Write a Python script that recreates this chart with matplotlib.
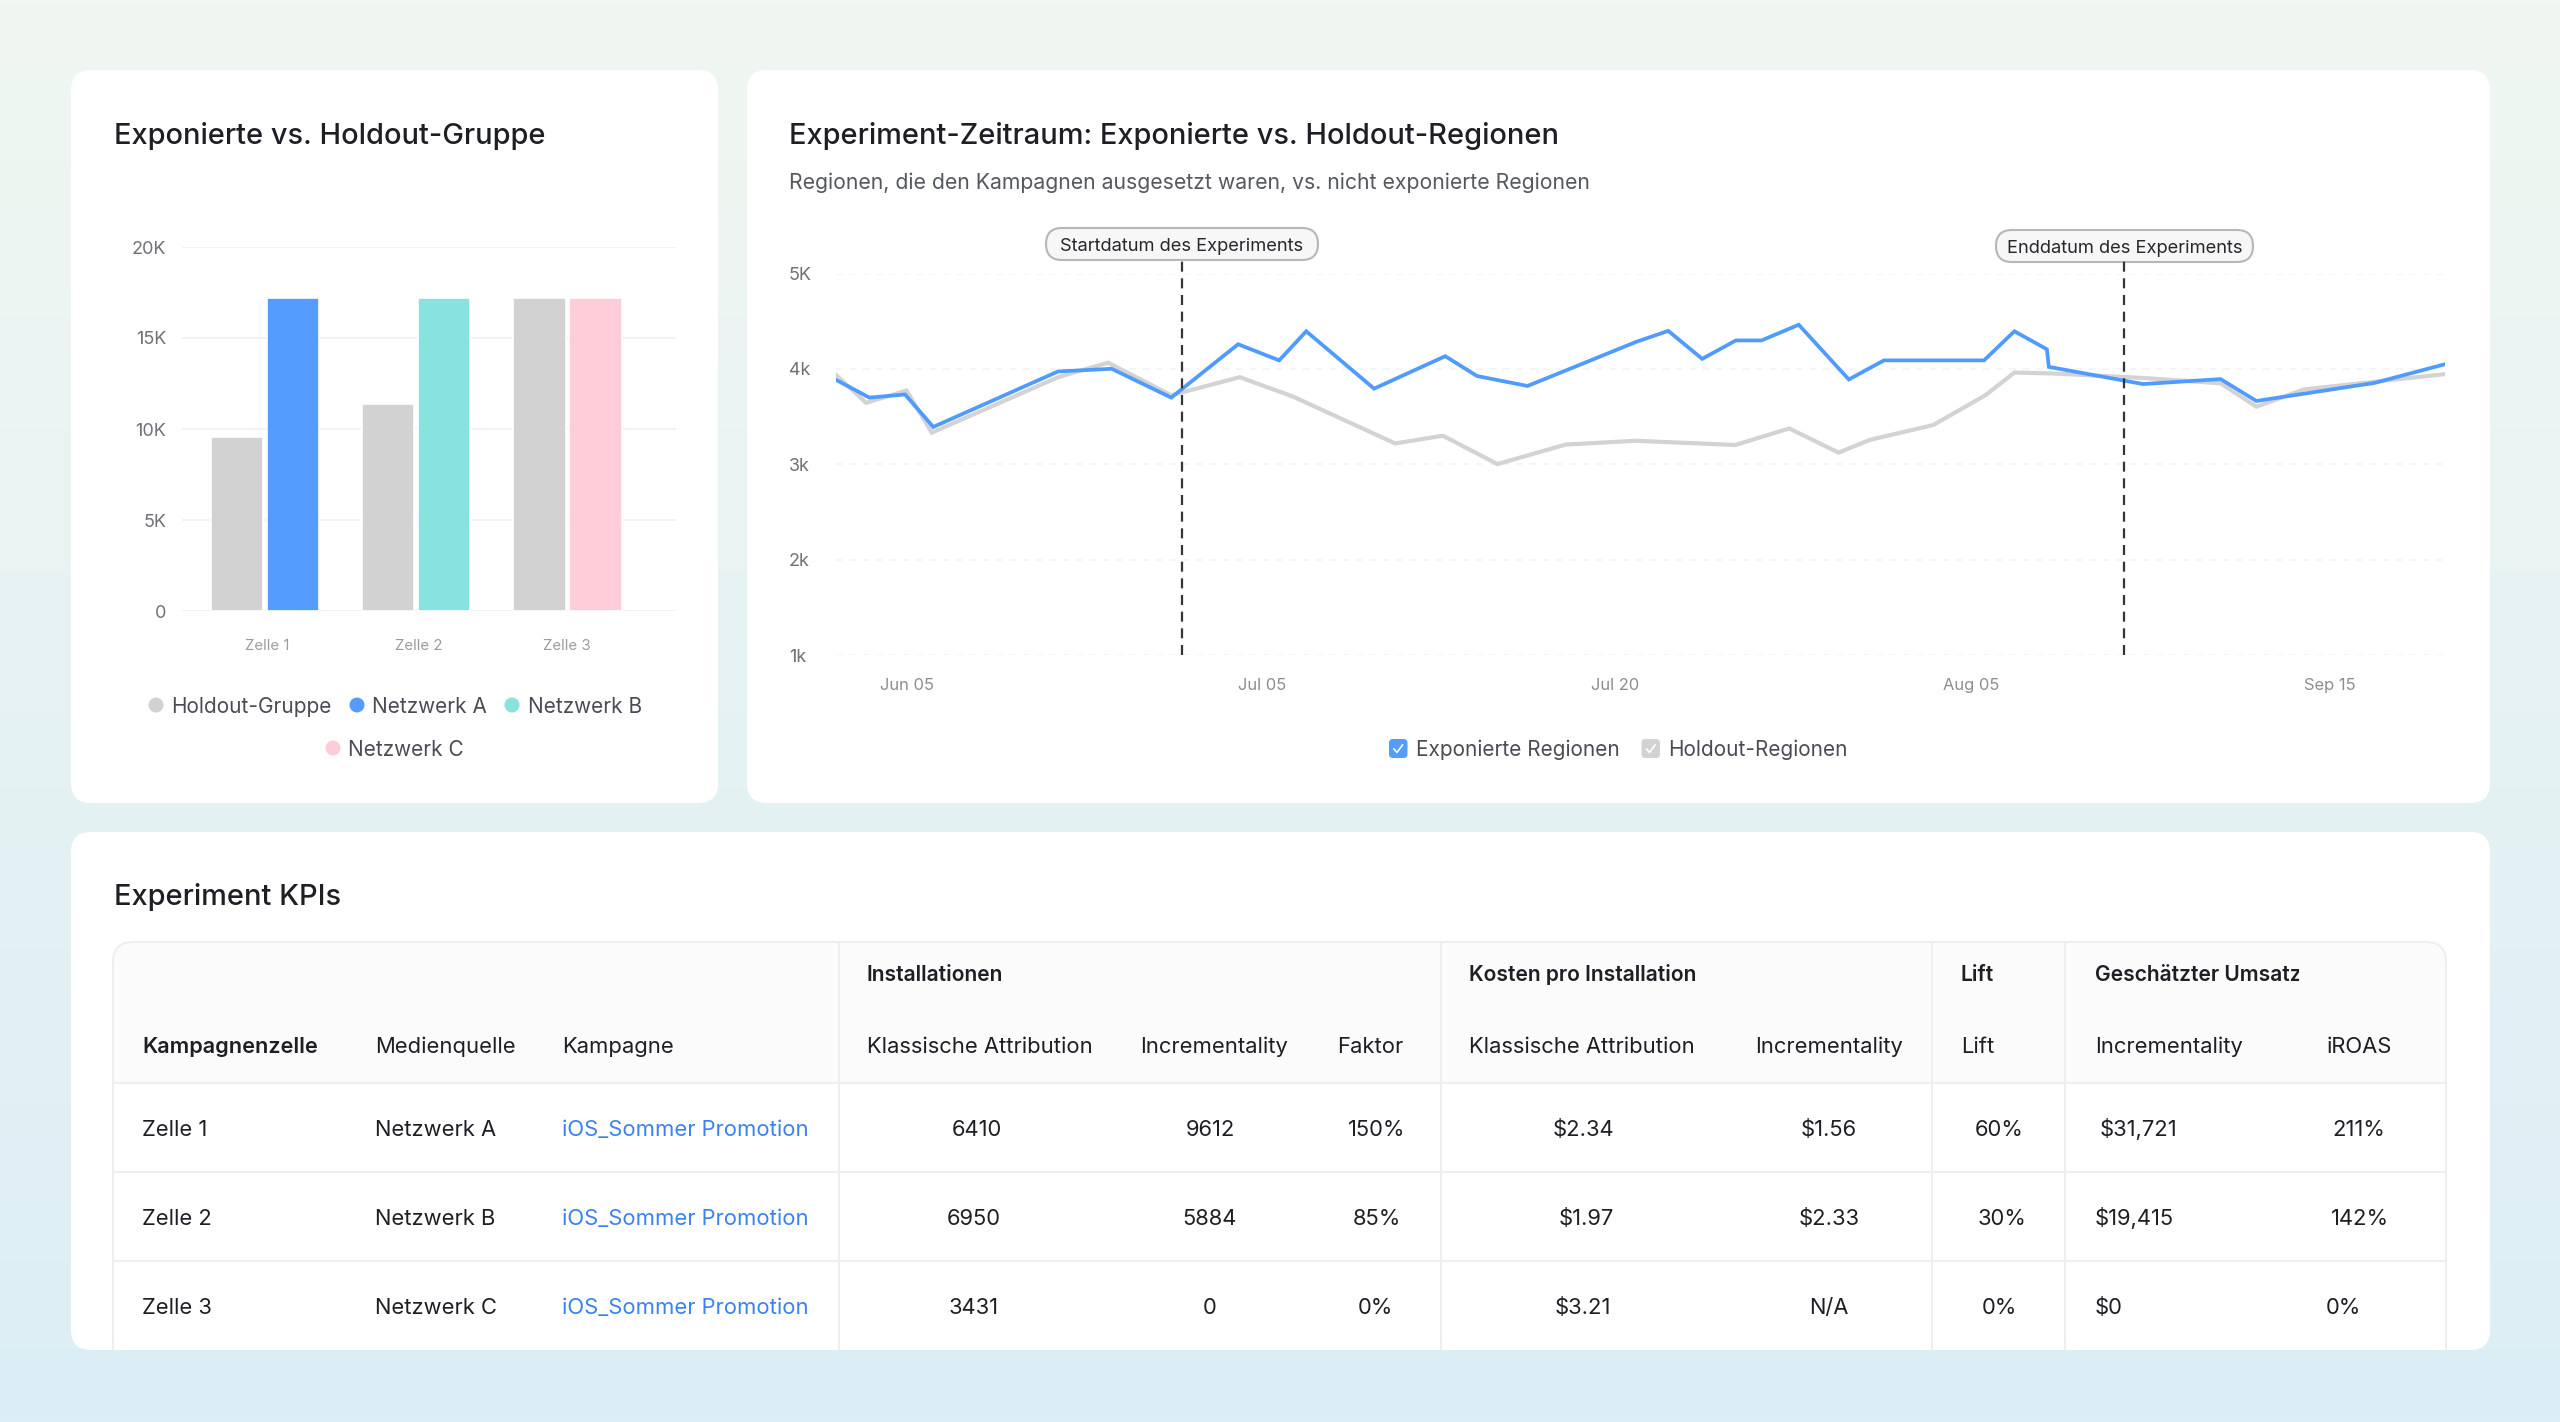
import numpy as np
import matplotlib
matplotlib.use('Agg')
import matplotlib.pyplot as plt
from matplotlib.patches import FancyBboxPatch, Rectangle, Circle

plt.rcParams['font.family'] = ['Inter', 'DejaVu Sans']

W, H = 2560, 1422

# bar chart
cells = ['Zelle 1', 'Zelle 2', 'Zelle 3']
holdout_bars = [9560, 11350, 17180]
exposed_bars = [17180, 17180, 17180]
network_names = ['Netzwerk A', 'Netzwerk B', 'Netzwerk C']
bar_ticks = [0, 5000, 10000, 15000, 20000]
bar_tick_labels = ['0', '5K', '10K', '15K', '20K']

# line chart, x is in days along the category axis
exposed_x = [-2.95, -1.54, -0.04, 1.15, 6.41, 8.67, 11.18, 14.0, 15.73, 16.87, 19.73, 22.73,
             24.07, 26.2, 30.77, 32.13, 33.56, 34.98, 36.06, 37.63, 39.74, 41.22, 45.44,
             46.72, 48.09, 48.17, 52.14, 55.41, 56.92, 61.9, 64.87]
exposed_y = [3.886, 3.70, 3.733, 3.393, 3.974, 4.002, 3.70, 4.259, 4.09, 4.395, 3.794, 4.134,
             3.926, 3.822, 4.283, 4.399, 4.106, 4.299, 4.299, 4.463, 3.89, 4.09, 4.09,
             4.395, 4.206, 4.022, 3.842, 3.894, 3.665, 3.854, 4.05]
holdout_x = [-2.95, -1.68, 0.02, 1.09, 6.41, 8.52, 11.18, 14.07, 16.33, 20.62, 22.63, 24.93,
             27.8, 30.77, 34.96, 37.23, 39.31, 40.62, 43.3, 45.5, 46.72, 48.29, 52.14,
             55.41, 56.92, 58.92, 61.9, 64.87]
holdout_y = [3.938, 3.645, 3.774, 3.333, 3.914, 4.066, 3.725, 3.914, 3.709, 3.22, 3.301, 3.004,
             3.208, 3.248, 3.204, 3.377, 3.124, 3.257, 3.413, 3.725, 3.962, 3.954, 3.906,
             3.85, 3.605, 3.786, 3.866, 3.946]
start_day = 11.62
end_day = 51.33
date_ticks = [0.05, 15, 29.9, 44.9, 60]
date_labels = ['Jun 05', 'Jul 05', 'Jul 20', 'Aug 05', 'Sep 15']
line_ticks = [1, 2, 3, 4, 5]
line_tick_labels = ['1k', '2k', '3k', '4k', '5K']

# table
group_headers = ['Installationen', 'Kosten pro Installation', 'Lift', 'Geschätzter Umsatz']
col_headers = ['Kampagnenzelle', 'Medienquelle', 'Kampagne', 'Klassische Attribution', 'Incrementality',
               'Faktor', 'Klassische Attribution', 'Incrementality', 'Lift', 'Incrementality', 'iROAS']
campaign = 'iOS_Sommer Promotion'
installs_classic = ['6410', '6950', '3431']
installs_incr = ['9612', '5884', '0']
factor = ['150%', '85%', '0%']
cpi_classic = ['$2.34', '$1.97', '$3.21']
cpi_incr = ['$1.56', '$2.33', 'N/A']
lift = ['60%', '30%', '0%']
revenue = ['$31,721', '$19,415', '$0']
iroas = ['211%', '142%', '0%']

DARK = '#1d1f24'
BLUE = '#559cff'
GRAY = '#d2d2d2'
TEAL = '#88e3df'
PINK = '#ffcdda'


def px_axes(left, top, right, bottom, **kw):
    return fig.add_axes([left / W, 1 - bottom / H, (right - left) / W, (bottom - top) / H], **kw)


def txt(x, y, s, size=22, color=DARK, ha='left', weight='normal', **kw):
    # y is the middle of the cap height
    return bg.text(x, y + 0.36 * size, s, fontsize=size * 0.72, color=color, ha=ha, va='baseline',
                   fontweight=weight, zorder=6, **kw)


def card(x0, y0, x1, y1):
    bg.add_patch(FancyBboxPatch((x0, y0), x1 - x0, y1 - y0, boxstyle='round,pad=0,rounding_size=20',
                                fc='white', ec='none', zorder=1))


fig = plt.figure(figsize=(W / 100, H / 100), dpi=100)
bg = px_axes(0, 0, W, H, zorder=0)
bg.set_xlim(0, W)
bg.set_ylim(H, 0)
bg.axis('off')

# page gradient
top_c = np.array([0xf0, 0xf7, 0xf1]) / 255
bot_c = np.array([0xdc, 0xee, 0xf6]) / 255
t = np.linspace(0, 1, 256)[:, None, None]
bg.imshow(top_c[None, None, :] * (1 - t) + bot_c[None, None, :] * t, extent=(0, W, H, 0), aspect='auto', zorder=0)

card(71, 70, 718, 803)
card(747, 70, 2490, 803)
card(71, 832, 2490, 1350)

txt(114, 134, 'Exponierte vs. Holdout-Gruppe', 29, weight='medium')
txt(789, 134, 'Experiment-Zeitraum: Exponierte vs. Holdout-Regionen', 29, weight='medium')
txt(789, 181, 'Regionen, die den Kampagnen ausgesetzt waren, vs. nicht exponierte Regionen', 21.2, color='#55585f')
txt(114, 895, 'Experiment KPIs', 29, weight='medium')

# bars
ax1 = px_axes(181.5, 247, 676, 611, zorder=2)
ax1.patch.set_visible(False)
x = np.arange(len(cells))
ax1.bar(x - 0.185, holdout_bars, 0.345, color=GRAY, edgecolor='white', linewidth=1.2, zorder=3)
ax1.bar(x + 0.185, exposed_bars, 0.345, color=[BLUE, TEAL, PINK], edgecolor='white', linewidth=1.2, zorder=3)
ax1.set_xlim(-0.549, 2.716)
ax1.set_ylim(0, 20000)
ax1.set_yticks(bar_ticks, bar_tick_labels)
ax1.set_xticks(x + np.array([0.02, 0.02, -0.004]), cells)
ax1.tick_params(axis='y', length=0, pad=11, labelsize=18 * 0.72, labelcolor='#6f7178')
ax1.tick_params(axis='x', length=0, pad=20, labelsize=15 * 0.72, labelcolor='#9b9ca1')
ax1.grid(axis='y', color='#f1f2f3', linewidth=1.4, zorder=0)
for s in ax1.spines.values():
    s.set_visible(False)

legend_items = [(156, 705, GRAY, 'Holdout-Gruppe'), (357, 705, BLUE, network_names[0]),
                (512, 705, TEAL, network_names[1]), (333, 748, PINK, network_names[2])]
for cx, cy, col, name in legend_items:
    bg.add_patch(Circle((cx, cy), 7.5, fc=col, ec='none', zorder=5))
    txt(cx + 15.5, cy + 0.5, name, 20.8, color='#4a4c55')

# lines
ax2 = px_axes(836, 273.5, 2445, 655.4, zorder=2)
ax2.patch.set_visible(False)
ax2.plot(holdout_x, holdout_y, color='#d3d3d3', linewidth=3, solid_joinstyle='miter', zorder=3)
ax2.plot(exposed_x, exposed_y, color='#4f9bff', linewidth=2.7, solid_joinstyle='miter', zorder=4)
for day in (start_day, end_day):
    ax2.plot([day, day], [1, 5.13], color='#33353a', linewidth=1.6, dashes=(4.5, 3), clip_on=False, zorder=5)
ax2.set_xlim(-2.95, 64.87)
ax2.set_ylim(1, 5)
ax2.set_yticks(line_ticks, line_tick_labels, ha='left')
ax2.set_xticks(date_ticks, date_labels)
ax2.tick_params(axis='y', length=0, pad=34, labelsize=18 * 0.72, labelcolor='#6f7178')
ax2.tick_params(axis='x', length=0, pad=16.5, labelsize=16.5 * 0.72, labelcolor='#8b8d93')
ax2.grid(axis='y', color='#f2f3f6', linewidth=1.2, dashes=(4, 4), zorder=0)
for s in ax2.spines.values():
    s.set_visible(False)

# pills
for x0, y0, x1, y1, label in [(1046, 228, 1318, 260, 'Startdatum des Experiments'),
                              (1996, 230, 2253, 262, 'Enddatum des Experiments')]:
    bg.add_patch(FancyBboxPatch((x0, y0), x1 - x0, y1 - y0, boxstyle='round,pad=0,rounding_size=16',
                                fc='#f7f7f7', ec='#b7b7b7', linewidth=1.5, zorder=5))
    txt((x0 + x1) / 2, (y0 + y1) / 2, label, 18.3, ha='center', color='#26282c')

# legend with check boxes
for x0, col, name in [(1389, BLUE, 'Exponierte Regionen'), (1641.5, '#d2d2d2', 'Holdout-Regionen')]:
    bg.add_patch(FancyBboxPatch((x0, 739), 18.5, 19, boxstyle='round,pad=0,rounding_size=4',
                                fc=col, ec='none', zorder=5))
    bg.plot([x0 + 5, x0 + 8, x0 + 13.5], [749, 752.5, 745], color='white', linewidth=1.2, zorder=6)
    txt(x0 + 27, 748.5, name, 20.8, color='#4a4c55')

# table frame
clip = Rectangle((100, 930), 2400, 420, transform=bg.transData)
frame = FancyBboxPatch((113, 942), 2333, 450, boxstyle='round,pad=0,rounding_size=20',
                       fc='#fbfbfb', ec='#eeeeee', linewidth=1.4, zorder=2)
bg.add_patch(frame)
frame.set_clip_path(clip)
bg.add_patch(Rectangle((113, 1083), 2333, 267, fc='white', ec='none', zorder=3))
line_c = '#eeeeee'
for yy in (1083, 1172, 1261):
    bg.plot([113, 2446], [yy, yy], color=line_c, linewidth=1.4, zorder=4)
for xx in (113, 838.5, 1441, 1932, 2065, 2446):
    bg.plot([xx, xx], [942 if xx not in (113, 2446) else 962, 1350], color=line_c, linewidth=1.4, zorder=4)

for xx, s in zip((867, 1469, 1961, 2095), group_headers):
    t_h = txt(xx, 973, s, 21, weight='semibold')
    if s == group_headers[3]:
        t_h.set_clip_on(True)
        t_h.set_clip_path(Rectangle((2050, 950), 249, 50, transform=bg.transData))

for i, (xx, s) in enumerate(zip((142, 375, 562, 867, 1140, 1337, 1469, 1755, 1961, 2095, 2327), col_headers)):
    txt(xx, 1045, s, 21.7 if i == 0 else 22, weight='semibold' if i == 0 else 'normal')

row_y = (1128, 1217, 1306)
for r, yy in enumerate(row_y):
    txt(142, yy, cells[r])
    txt(375, yy, network_names[r])
    txt(562, yy, campaign, color='#3b82f0')
    txt((977, 974, 974)[r], yy, installs_classic[r], ha='center')
    txt(1210, yy, installs_incr[r], ha='center')
    txt((1377, 1377, 1375)[r], yy, factor[r], ha='center')
    txt((1583, 1586, 1583)[r], yy, cpi_classic[r], ha='center')
    txt(1829, yy, cpi_incr[r], ha='center')
    txt((1999, 2002, 1999)[r], yy, lift[r], ha='center')
    txt((2100, 2095, 2095)[r], yy, revenue[r])
    txt((2359, 2360, 2343)[r], yy, iroas[r], ha='center')

fig.savefig('out.png', dpi=100)
